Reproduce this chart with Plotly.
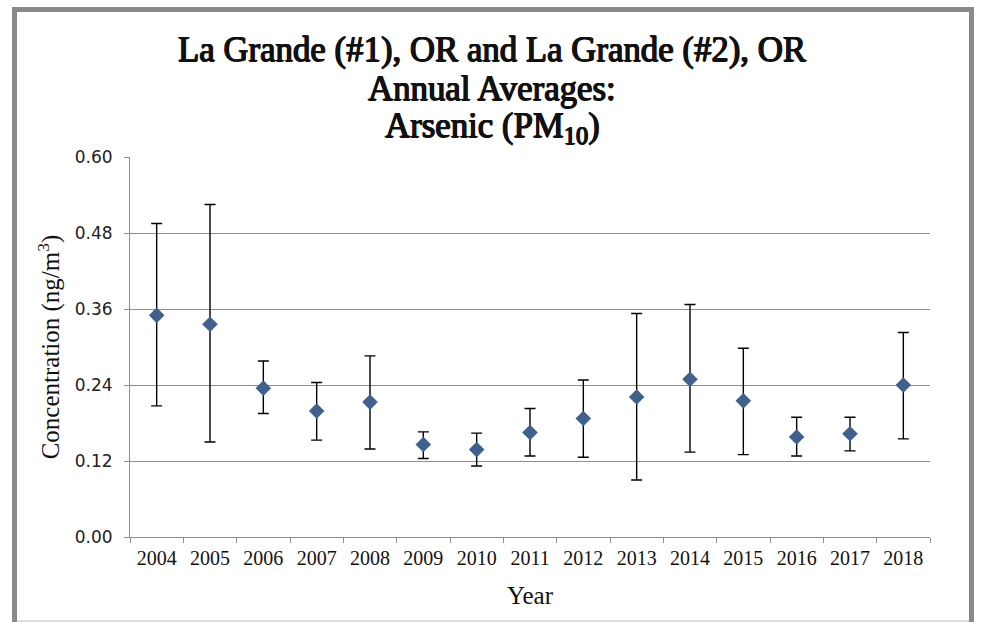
import plotly.graph_objects as go

# Annual average arsenic (PM10) concentrations, ng/m3
years = ["2004", "2005", "2006", "2007", "2008", "2009", "2010", "2011",
         "2012", "2013", "2014", "2015", "2016", "2017", "2018"]
mean_conc = [0.350, 0.336, 0.235, 0.199, 0.213, 0.146, 0.138, 0.165,
             0.187, 0.221, 0.249, 0.215, 0.158, 0.163, 0.240]
upper_ci = [0.495, 0.525, 0.278, 0.244, 0.286, 0.166, 0.164, 0.203,
            0.248, 0.353, 0.367, 0.298, 0.189, 0.189, 0.323]
lower_ci = [0.207, 0.150, 0.195, 0.153, 0.139, 0.124, 0.112, 0.128,
            0.126, 0.090, 0.134, 0.130, 0.128, 0.136, 0.155]
y_ticks = [0.00, 0.12, 0.24, 0.36, 0.48, 0.60]

err_plus = [u - m for u, m in zip(upper_ci, mean_conc)]
err_minus = [m - l for m, l in zip(mean_conc, lower_ci)]

W, H = 983, 622
L, R, T, B = 130, 53, 157, 85
PW, PH = W - L - R, H - T - B


def px_x(x):
    return (x - L) / PW


def px_y(y):
    return 1 + (T - y) / PH


SERIF = "Liberation Serif, serif"
SANS = "DejaVu Sans"
GRID = "#8f8f8f"
INK = "#111111"
# heavier strokes for the serif heading, built from a tight text shadow
HEAVY = ", ".join([
    "0.7px 0 0 " + INK, "-0.7px 0 0 " + INK,
    "0 0.5px 0 " + INK, "0 -0.3px 0 " + INK,
])

fig = go.Figure()
fig.add_trace(go.Scatter(
    x=years,
    y=mean_conc,
    mode="markers",
    marker=dict(symbol="diamond", size=12, color="#40608e",
                line=dict(width=0)),
    error_y=dict(type="data", symmetric=False, array=err_plus,
                 arrayminus=err_minus, color="#000000", thickness=1.4,
                 width=5.5),
    showlegend=False,
    hoverinfo="skip",
))

fig.update_xaxes(
    type="category",
    range=[-0.5, len(years) - 0.5],
    tickson="boundaries",
    ticks="outside",
    ticklen=5,
    tickcolor=GRID,
    showline=True,
    linecolor=GRID,
    linewidth=1,
    showgrid=False,
    ticklabelstandoff=3,
    tickfont=dict(family=SERIF, size=20, color=INK),
    title=dict(text="Year", font=dict(family=SERIF, size=25, color=INK),
               standoff=18),
)
fig.update_yaxes(
    range=[0, 0.6],
    tickvals=y_ticks,
    tickformat=".2f",
    ticks="outside",
    ticklen=5,
    tickcolor=GRID,
    showline=True,
    linecolor=GRID,
    linewidth=1,
    showgrid=True,
    gridcolor=GRID,
    gridwidth=1,
    zeroline=False,
    ticklabelstandoff=8,
    tickfont=dict(family=SANS, size=17, color="#222222"),
    title=dict(text="Concentration (ng/m<sup>3</sup>)",
               font=dict(family=SERIF, size=25, color=INK),
               standoff=7),
)

title_lines = [
    ("La Grande (#1), OR and La Grande (#2), OR", 50),
    ("Annual Averages:", 88),
    ("Arsenic (PM<sub>10</sub>)", 127),
]
annotations = []
for text, ypx in title_lines:
    annotations.append(dict(
        text=text, x=px_x(492), y=px_y(ypx),
        xref="paper", yref="paper", xanchor="center", yanchor="middle",
        showarrow=False,
        font=dict(family=SERIF, size=34.8, color=INK, shadow=HEAVY),
    ))

# outer chart frame
shapes = [
    dict(type="rect", xref="paper", yref="paper",
         x0=px_x(14.5), x1=px_x(971.5), y0=px_y(640), y1=px_y(9.5),
         line=dict(color="#8a8a8a", width=5), layer="below"),
    dict(type="line", xref="paper", yref="paper",
         x0=px_x(17), x1=px_x(969), y0=px_y(621), y1=px_y(621),
         line=dict(color="#dcdcdc", width=2), layer="below"),
]

fig.update_layout(
    width=W,
    height=H,
    margin=dict(l=L, r=R, t=T, b=B),
    paper_bgcolor="white",
    plot_bgcolor="white",
    annotations=annotations,
    shapes=shapes,
)

fig.write_html("out.html")
